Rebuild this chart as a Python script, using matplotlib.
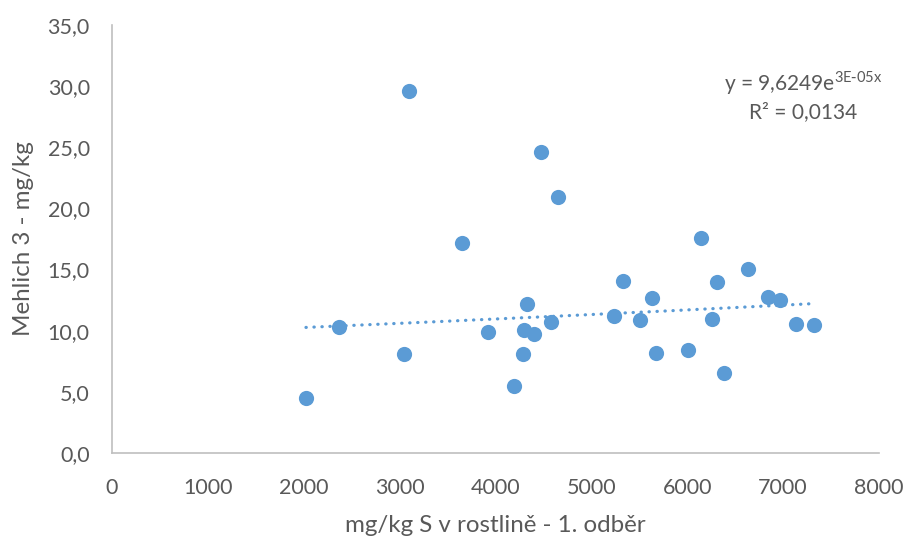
import numpy as np
import matplotlib
matplotlib.use("Agg")
import matplotlib.pyplot as plt
from matplotlib.ticker import FuncFormatter

# S content in plant (mg/kg) vs. Mehlich 3 soil extract (mg/kg)
s_plant = [2023, 2364, 3045, 3100, 3650, 3927, 4198, 4292, 4302, 4327,
           4403, 4470, 4574, 4657, 5235, 5332, 5506, 5637, 5679, 6006,
           6145, 6260, 6309, 6385, 6635, 6844, 6966, 7139, 7323]
mehlich3 = [4.47, 10.30, 8.10, 29.6, 17.2, 9.87, 5.50, 8.07, 10.03, 12.16,
            9.70, 24.59, 10.74, 20.96, 11.23, 14.09, 10.87, 12.70, 8.15, 8.45,
            17.58, 10.96, 14.01, 6.54, 15.0, 12.73, 12.51, 10.55, 10.47]

x_ticks = [0, 1000, 2000, 3000, 4000, 5000, 6000, 7000, 8000]
y_ticks = [0, 5, 10, 15, 20, 25, 30, 35]

eq_text = r"y = 9,6249e$^{\mathregular{3E\text{-}05x}}$"
r2_text = "R² = 0,0134"

plt.rcParams['font.family'] = ['Lato', 'DejaVu Sans']
text_color = "#595959"
point_color = "#5B9BD5"

fig = plt.figure(figsize=(9.07, 5.36), dpi=100)
ax = fig.add_axes([0.1235, 0.155, 0.8456, 0.7985])

x = np.array(s_plant, dtype=float)
y = np.array(mehlich3, dtype=float)

ax.scatter(x, y, s=120, color=point_color, zorder=3, linewidths=0)

# exponential trendline (least squares on ln y)
b, ln_a = np.polyfit(x, np.log(y), 1)
xt = np.linspace(x.min(), x.max(), 200)
ax.plot(xt, np.exp(ln_a) * np.exp(b * xt), color=point_color, lw=2.3,
        linestyle=(0, (0.1, 2.4)), dash_capstyle="round", zorder=2)

ax.set_xlim(0, 8000)
ax.set_ylim(0, 35)
ax.set_xticks(x_ticks)
ax.set_yticks(y_ticks)
ax.yaxis.set_major_formatter(FuncFormatter(lambda v, p: f"{v:.1f}".replace(".", ",")))
ax.xaxis.set_major_formatter(FuncFormatter(lambda v, p: f"{int(v)}"))

for side in ("top", "right"):
    ax.spines[side].set_visible(False)
for side in ("left", "bottom"):
    ax.spines[side].set_color("#BFBFBF")
    ax.spines[side].set_linewidth(1.2)

ax.tick_params(axis="both", length=0, labelsize=15.5, colors=text_color)
ax.tick_params(axis="y", pad=16)
ax.tick_params(axis="x", pad=18)

ax.set_xlabel("mg/kg S v rostlině - 1. odběr", fontsize=17.4, color=text_color, labelpad=12)
ax.set_ylabel("Mehlich 3 - mg/kg", fontsize=17.4, color=text_color, labelpad=10)

ax.text(7205, 30.25, eq_text, fontsize=15, color=text_color, ha="center", va="center")
ax.text(7205, 27.9, r2_text, fontsize=15, color=text_color, ha="center", va="center")

fig.savefig("out.png", dpi=100)
